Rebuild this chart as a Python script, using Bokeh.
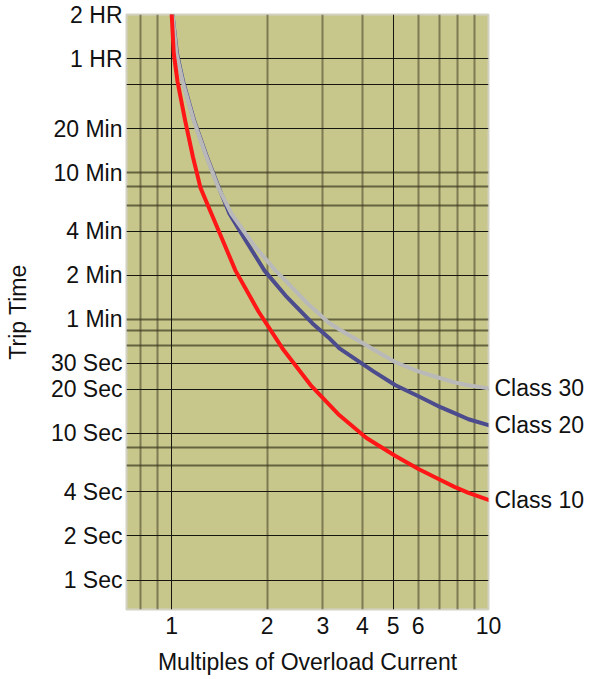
from bokeh.plotting import figure
from bokeh.models import FixedTicker, Grid, LogAxis, Range1d
from bokeh.embed import file_html
from bokeh.resources import INLINE

# ---- data ----
class10_x = [1.0, 1.015, 1.043, 1.102, 1.167, 1.233, 1.335, 1.590, 1.879, 2.237, 2.763, 3.385,
             4.120, 5.086, 6.012, 7.056, 7.810, 8.648, 10]
class10_y = [7200, 3910, 2523, 1370, 768, 473, 315, 129, 67.9, 38.0, 21.0, 13.3,
             9.3, 7.02, 5.72, 4.82, 4.32, 3.93, 3.52]

class20_x = [1.006, 1.039, 1.086, 1.176, 1.292, 1.410, 1.522, 1.722, 1.963, 2.287, 2.783,
             3.125, 3.385, 4.335, 5.086, 6.012, 7.056, 7.810, 8.648, 10]
class20_y = [7200, 3910, 2523, 1370, 768, 473, 315, 203, 129, 87.2, 56.3,
             45.2, 38.0, 26.5, 21.3, 17.95, 15.1, 13.75, 12.5, 11.4]

class30_x = [1.006, 1.035, 1.082, 1.172, 1.288, 1.405, 1.544, 1.812, 2.126, 2.270, 2.665,
             3.125, 3.385, 4.335, 5.086, 6.012, 7.056, 7.810, 8.648, 10]
class30_y = [7200, 3910, 2523, 1370, 768, 473, 315, 193.7, 128.9, 112.0, 78.2,
             57.1, 51.2, 37.4, 30.6, 26.5, 23.8, 22.3, 21.3, 20.3]

series_names = ["Class 10", "Class 20", "Class 30"]

x_ticks = [1, 2, 3, 4, 5, 6, 10]
x_grid_dark = [1, 5]
x_grid_soft = [0.8, 0.9, 2, 3, 4, 6, 7, 8, 9]

y_ticks = [1, 2, 4, 10, 20, 30, 60, 120, 240, 600, 1200, 3600, 7200]
y_labels = ["1 Sec", "2 Sec", "4 Sec", "10 Sec", "20 Sec", "30 Sec", "1 Min", "2 Min",
            "4 Min", "10 Min", "20 Min", "1 HR", "2 HR"]
y_grid_dark = [1, 2, 4, 10, 20, 30, 120, 240, 1200, 2400, 3600]
y_grid_soft = [6, 8, 40, 50, 60, 360, 480, 600]

FONT = "Liberation Sans"

p = figure(width=588, height=677, x_axis_type="log", y_axis_type="log",
           x_range=Range1d(0.72, 10), y_range=Range1d(0.63, 7200),
           output_backend="svg", toolbar_location=None,
           min_border_left=126, min_border_right=100, min_border_top=14, min_border_bottom=56)

p.background_fill_color = "#c8c78b"
p.border_fill_color = "white"
p.outline_line_color = "#d2d2c4"
p.outline_line_width = 2

# grids
p.xgrid.ticker = FixedTicker(ticks=x_grid_soft)
p.xgrid.grid_line_color = "#4a4830"
p.xgrid.grid_line_alpha = 0.6
p.xgrid.grid_line_width = 2
p.ygrid.ticker = FixedTicker(ticks=y_grid_soft)
p.ygrid.grid_line_color = "#3a3820"
p.ygrid.grid_line_alpha = 0.7
p.ygrid.grid_line_width = 2

p.add_layout(Grid(dimension=0, ticker=FixedTicker(ticks=x_grid_dark),
                  grid_line_color="#161610", grid_line_width=1))
p.add_layout(Grid(dimension=1, ticker=FixedTicker(ticks=y_grid_dark),
                  grid_line_color="#161610", grid_line_width=1))

# curves
p.line(class20_x, class20_y, line_color="#4b4b8e", line_width=4, line_join="round", line_cap="round")
p.line(class30_x, class30_y, line_color="#b9b9b9", line_width=4, line_join="round", line_cap="round")
p.line(class10_x, class10_y, line_color="#ff1616", line_width=4, line_join="round", line_cap="round")

# series names at the right end of each curve (right-hand axis)
end_vals = [class10_y[-1], class20_y[-1], class30_y[-1]]
right_axis = LogAxis(ticker=FixedTicker(ticks=end_vals),
                     major_label_overrides=dict(zip(end_vals, series_names)))
p.add_layout(right_axis, "right")

# axes
p.xaxis.ticker = FixedTicker(ticks=x_ticks)
p.xaxis.major_label_overrides = {t: str(t) for t in x_ticks}
p.yaxis[0].ticker = FixedTicker(ticks=y_ticks)
p.yaxis[0].major_label_overrides = dict(zip(y_ticks, y_labels))

for ax in list(p.xaxis) + list(p.yaxis):
    ax.axis_line_color = None
    ax.major_tick_line_color = None
    ax.minor_tick_line_color = None
    ax.major_tick_out = 0
    ax.major_tick_in = 0
    ax.minor_tick_out = 0
    ax.minor_tick_in = 0
    ax.major_label_text_font = FONT
    ax.major_label_text_font_size = "23px"
    ax.major_label_text_color = "#111111"
    ax.major_label_text_line_height = 1.0
    ax.axis_label_text_font = FONT
    ax.axis_label_text_font_size = "23px"
    ax.axis_label_text_font_style = "normal"
    ax.axis_label_text_color = "#111111"
    ax.axis_label_text_line_height = 1.0

right_axis.major_label_standoff = 6

p.xaxis.axis_label = "Multiples of Overload Current"
p.xaxis.major_label_standoff = 7
p.xaxis.axis_label_standoff = 12
p.yaxis[0].axis_label = "Trip Time"
p.yaxis[0].major_label_standoff = 4
p.yaxis[0].axis_label_standoff = 17

open("out.html", "w").write(file_html(p, INLINE))
